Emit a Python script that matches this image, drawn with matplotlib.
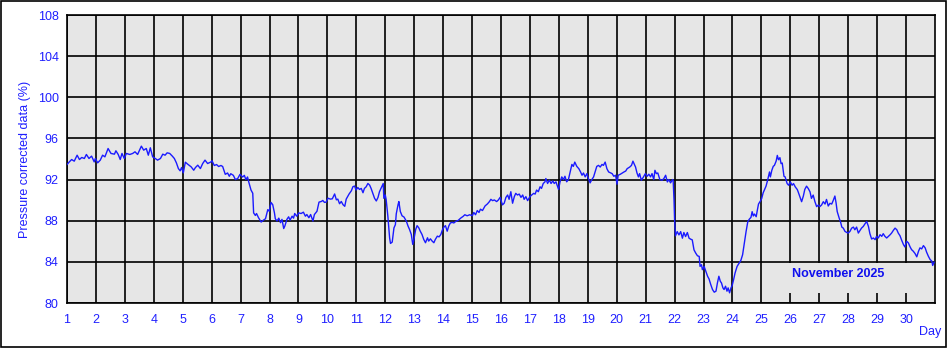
import matplotlib
matplotlib.use("Agg")
import matplotlib.pyplot as plt
from matplotlib.patches import Rectangle

plt.rcParams['font.family'] = ['Liberation Sans', 'DejaVu Sans']

# day of month (fractional) and pressure corrected value (%)
days = [1.00, 1.08, 1.16, 1.25, 1.35, 1.43, 1.51, 1.60, 1.67, 1.76, 1.85, 1.94, 1.98,
        2.06, 2.15, 2.23, 2.31, 2.42, 2.52, 2.64, 2.69, 2.77, 2.84, 2.90, 2.98,
        3.05, 3.17, 3.27, 3.35, 3.44, 3.57, 3.65, 3.74, 3.81, 3.88, 3.96,
        4.05, 4.13, 4.23, 4.31, 4.39, 4.46, 4.55, 4.64, 4.71, 4.78, 4.85, 4.91, 4.96,
        5.02, 5.09, 5.17, 5.29, 5.38, 5.44, 5.52, 5.61, 5.69, 5.77, 5.86, 5.98,
        6.01, 6.09, 6.17, 6.24, 6.32, 6.38, 6.47, 6.55, 6.61, 6.66, 6.75, 6.82, 6.90, 6.98,
        7.07, 7.13, 7.18, 7.24, 7.28, 7.36, 7.42, 7.45, 7.51, 7.55, 7.62, 7.71, 7.79, 7.86, 7.94, 7.99,
        8.05, 8.11, 8.17, 8.20, 8.26, 8.32, 8.38, 8.43, 8.49, 8.53, 8.60, 8.66, 8.71, 8.78, 8.83, 8.87, 8.94,
        9.01, 9.09, 9.17, 9.24, 9.29, 9.36, 9.42, 9.50, 9.55, 9.64, 9.71, 9.79, 9.84, 9.90, 9.96,
        10.02, 10.10, 10.17, 10.25, 10.31, 10.36, 10.42, 10.48, 10.54, 10.60, 10.65, 10.75, 10.83, 10.88, 10.94,
        10.99, 11.05, 11.11, 11.17, 11.23, 11.28, 11.34, 11.40, 11.46, 11.51, 11.57, 11.63, 11.69, 11.75,
        11.80, 11.88, 11.93, 11.95,
        12.00, 12.03, 12.09, 12.15, 12.18, 12.24, 12.30, 12.35, 12.38, 12.44, 12.47, 12.52, 12.58, 12.65,
        12.73, 12.79, 12.84, 12.90, 12.95, 12.99,
        13.05, 13.10, 13.16, 13.21, 13.27, 13.33, 13.39, 13.46, 13.50, 13.56, 13.62, 13.68, 13.73, 13.80,
        13.86, 13.92, 13.98,
        14.03, 14.08, 14.14, 14.20, 14.25, 14.31, 14.37, 14.44, 14.52, 14.61, 14.69, 14.75, 14.83, 14.92,
        15.01, 15.06, 15.12, 15.18, 15.24, 15.29, 15.36, 15.45, 15.53, 15.60, 15.65, 15.71, 15.77, 15.85,
        15.91, 15.97,
        16.05, 16.11, 16.17, 16.23, 16.28, 16.34, 16.40, 16.46, 16.51, 16.57, 16.63, 16.69, 16.75, 16.80,
        16.86, 16.92,
        17.00, 17.06, 17.13, 17.18, 17.23, 17.29, 17.35, 17.40, 17.46, 17.52, 17.55, 17.61, 17.67, 17.73,
        17.79, 17.84, 17.90, 17.96, 17.99,
        18.04, 18.10, 18.16, 18.21, 18.27, 18.33, 18.39, 18.45, 18.50, 18.55, 18.62, 18.69, 18.75, 18.80,
        18.85, 18.91, 18.97,
        19.02, 19.08, 19.14, 19.20, 19.25, 19.31, 19.37, 19.43, 19.49, 19.54, 19.60, 19.66, 19.72, 19.79,
        19.84, 19.90, 19.96,
        20.01, 20.05, 20.12, 20.19, 20.25, 20.31, 20.36, 20.45, 20.51, 20.56, 20.61, 20.65, 20.70, 20.75,
        20.79, 20.85, 20.91,
        20.99, 21.05, 21.11, 21.17, 21.22, 21.28, 21.32, 21.37, 21.42, 21.49, 21.57, 21.63, 21.69, 21.75,
        21.80, 21.86, 21.93, 21.95, 21.98,
        22.00, 22.03, 22.09, 22.15, 22.21, 22.27, 22.32, 22.38, 22.44, 22.50, 22.56, 22.61, 22.67, 22.73,
        22.79, 22.85, 22.88, 22.93, 22.96,
        23.02, 23.08, 23.14, 23.19, 23.25, 23.31, 23.37, 23.43, 23.48, 23.53, 23.58, 23.62, 23.67, 23.71,
        23.76, 23.81, 23.85, 23.90, 23.95, 23.99,
        24.04, 24.09, 24.16, 24.22, 24.29, 24.35, 24.41, 24.47, 24.53, 24.58, 24.64, 24.68, 24.72, 24.76,
        24.82, 24.85, 24.90, 24.97,
        25.01, 25.06, 25.11, 25.16, 25.22, 25.28, 25.31, 25.36, 25.41, 25.45, 25.51, 25.55, 25.59, 25.64,
        25.68, 25.72, 25.78, 25.82, 25.89, 25.94,
        26.00, 26.06, 26.11, 26.17, 26.24, 26.27, 26.33, 26.39, 26.45, 26.50, 26.56, 26.62, 26.68, 26.73,
        26.79, 26.85, 26.91, 26.97,
        27.02, 27.08, 27.14, 27.20, 27.25, 27.31, 27.37, 27.43, 27.48, 27.54, 27.58, 27.62, 27.69, 27.74,
        27.78, 27.83, 27.89, 27.95,
        28.00, 28.06, 28.12, 28.18, 28.23, 28.29, 28.35, 28.41, 28.46, 28.52, 28.58, 28.64, 28.70, 28.75,
        28.81, 28.87, 28.93, 28.98,
        29.04, 29.10, 29.16, 29.21, 29.27, 29.33, 29.39, 29.45, 29.50, 29.56, 29.62, 29.68, 29.73, 29.79,
        29.85, 29.91, 29.96,
        30.02, 30.08, 30.14, 30.19, 30.25, 30.31, 30.37, 30.43, 30.48, 30.54, 30.60, 30.66, 30.71, 30.77,
        30.83, 30.89, 30.92, 30.97]

values = [93.46, 93.72, 93.95, 93.79, 94.37, 93.95, 94.15, 94.05, 94.44, 94.05, 94.28, 93.72, 94.05,
          93.63, 93.89, 94.37, 94.21, 95.02, 94.54, 94.47, 94.80, 94.44, 93.95, 94.54, 94.05,
          94.54, 94.44, 94.54, 94.70, 94.44, 95.25, 94.86, 95.02, 94.37, 95.09, 94.21,
          94.05, 93.89, 94.05, 94.47, 94.37, 94.60, 94.54, 94.28, 94.05, 93.63, 93.07, 92.85, 93.17,
          92.65, 93.69, 93.50, 93.24, 92.91, 93.17, 93.40, 93.07, 93.56, 93.89, 93.56, 93.72,
          93.84, 93.37, 93.46, 93.27, 93.37, 93.27, 92.51, 92.64, 92.32, 92.57, 92.41, 92.00, 92.10, 92.51,
          92.25, 92.41, 92.00, 92.25, 91.78, 90.98, 90.67, 88.76, 88.51, 88.70, 88.29, 87.87, 88.06, 88.19, 89.08, 88.92,
          89.78, 89.56, 88.76, 88.19, 87.97, 88.25, 87.81, 88.13, 87.24, 87.49, 88.13, 88.38, 88.06, 88.44, 88.25, 88.70, 88.44,
          88.76, 88.70, 88.83, 88.44, 88.60, 88.29, 88.60, 87.97, 88.60, 88.92, 89.81, 89.87, 89.97, 89.78, 89.81,
          90.19, 90.10, 90.13, 90.60, 90.03, 90.10, 89.65, 89.87, 89.56, 89.40, 90.10, 90.60, 90.92, 91.30, 91.37,
          90.98, 91.23, 91.04, 91.14, 90.72, 91.14, 91.30, 91.62, 91.46, 91.14, 90.66, 90.18, 89.92, 90.27,
          90.82, 91.30, 91.62, 90.18,
          90.50, 90.08, 88.42, 86.34, 85.79, 85.92, 87.30, 87.62, 88.67, 89.54, 89.86, 88.90, 88.48, 88.35,
          87.94, 87.46, 87.14, 86.66, 85.70, 86.18,
          87.14, 87.52, 87.30, 86.98, 86.66, 86.18, 85.86, 86.34, 86.02, 86.24, 86.02, 85.86, 86.18, 86.50,
          86.43, 86.66, 87.14,
          87.39, 87.52, 86.98, 87.52, 87.78, 87.84, 87.78, 87.94, 88.03, 88.26, 88.42, 88.58, 88.48, 88.58,
          88.48, 88.80, 88.58, 88.99, 88.80, 89.12, 88.99, 89.44, 89.63, 89.86, 90.08, 89.95, 90.02, 89.86,
          90.02, 90.27,
          89.54, 89.70, 90.27, 90.50, 90.08, 90.82, 89.70, 90.34, 90.66, 90.50, 90.59, 90.27, 90.50, 90.08,
          90.34, 89.95,
          90.34, 90.50, 90.66, 90.59, 90.98, 90.82, 91.30, 91.14, 91.62, 91.78, 92.10, 91.62, 91.94, 91.62,
          91.87, 91.62, 91.78, 91.30, 91.04,
          91.78, 92.26, 92.00, 92.32, 91.78, 92.00, 92.74, 93.47, 93.28, 93.70, 93.28, 93.06, 92.74, 92.42,
          92.64, 92.26, 92.58,
          92.10, 91.68, 92.00, 92.26, 92.74, 93.28, 93.38, 93.22, 93.47, 93.38, 93.70, 93.06, 92.74, 92.64,
          92.58, 92.32, 92.42,
          91.55, 92.42, 92.51, 92.64, 92.74, 92.83, 93.06, 93.22, 93.38, 93.79, 93.47, 93.22, 92.64, 92.26,
          92.58, 91.94, 92.19,
          92.58, 92.32, 92.52, 92.26, 92.58, 92.00, 92.90, 92.58, 92.64, 92.00, 91.94, 92.10, 92.42, 91.77,
          92.00, 91.68, 92.00, 91.94, 90.00,
          88.07, 86.53, 86.94, 86.62, 86.94, 86.30, 86.85, 86.46, 86.85, 86.30, 86.20, 86.14, 85.17, 84.85,
          84.59, 84.53, 83.56, 83.72, 83.24,
          83.56, 83.08, 82.60, 82.34, 81.79, 81.31, 81.05, 81.15, 81.95, 82.60, 82.11, 81.95, 81.47, 81.31,
          81.63, 81.15, 81.47, 80.99, 81.47, 81.70,
          82.28, 82.92, 83.56, 83.82, 84.14, 84.69, 85.82, 86.94, 87.91, 88.14, 88.33, 88.88, 88.46, 88.65,
          88.39, 88.88, 89.62, 89.94,
          90.16, 90.71, 91.03, 91.36, 92.00, 92.74, 92.26, 92.90, 93.29, 93.38, 93.80, 94.35, 93.93, 94.13,
          93.55, 93.61, 92.32, 92.26, 91.61, 91.45,
          91.77, 91.45, 91.61, 91.29, 91.03, 90.81, 90.33, 89.85, 90.40, 91.04, 91.36, 91.13, 90.81, 90.17,
          90.49, 89.85, 89.37, 89.53,
          89.37, 89.53, 89.85, 89.62, 90.07, 89.43, 89.69, 89.62, 89.95, 90.40, 89.75, 88.89, 88.24, 87.83,
          87.38, 87.28, 86.96, 86.86,
          86.80, 86.96, 87.28, 87.38, 87.12, 87.38, 86.80, 87.06, 87.28, 87.44, 87.70, 87.92, 87.44, 86.74,
          86.22, 86.32, 86.16, 86.48,
          86.32, 86.64, 86.48, 86.74, 86.48, 86.32, 86.48, 86.64, 86.80, 87.06, 87.28, 87.12, 86.80, 86.54,
          86.09, 85.68, 85.45,
          86.00, 85.84, 85.45, 85.19, 85.03, 84.81, 84.49, 85.03, 85.36, 85.26, 85.58, 85.36, 84.94, 84.55,
          84.23, 84.07, 83.65, 83.97]

x_ticks = list(range(1, 31))
y_ticks = [80, 84, 88, 92, 96, 100, 104, 108]
month_label = "November 2025"

blue = '#1f1fff'

fig = plt.figure(figsize=(9.49, 3.48), dpi=100)
ax = fig.add_axes([67 / 949, 1 - 303 / 348, 868 / 949, 288 / 348])
ax.set_facecolor('#e6e6e6')

ax.plot(days, values, color='#1a1aff', lw=1.0, zorder=4)

ax.set_xlim(1, 31)
ax.set_ylim(80, 108)
ax.set_xticks(x_ticks)
ax.set_yticks(y_ticks)
ax.grid(True, color='black', lw=1.2, zorder=1)
ax.set_axisbelow(True)
ax.tick_params(length=0, labelsize=9, labelcolor=blue, pad=8)
ax.tick_params(axis='y', pad=6)
for s in ax.spines.values():
    s.set_color('black')
    s.set_linewidth(1.2)

ax.set_ylabel('Pressure corrected data (%)', color=blue, fontsize=9, labelpad=5)
ax.text(0.994, -0.08, 'Day', transform=ax.transAxes, color=blue, fontsize=9,
        ha='center', va='top')

# grey patch behind the month label, it hides the grid lines
ax.add_patch(Rectangle((0.806, 0.035), 0.19, 0.104, transform=ax.transAxes,
                       facecolor='#e6e6e6', edgecolor='none', zorder=2))
ax.text(0.888, 0.10, month_label, transform=ax.transAxes, color='#1010ee',
        fontsize=9, fontweight='bold', ha='center', va='center', zorder=3)

# outer frame of the picture
fig.patches.append(Rectangle((0.001, 0.003), 0.996, 0.994, transform=fig.transFigure,
                             fill=False, edgecolor='black', lw=1.2))

fig.savefig('out.png', dpi=100)
